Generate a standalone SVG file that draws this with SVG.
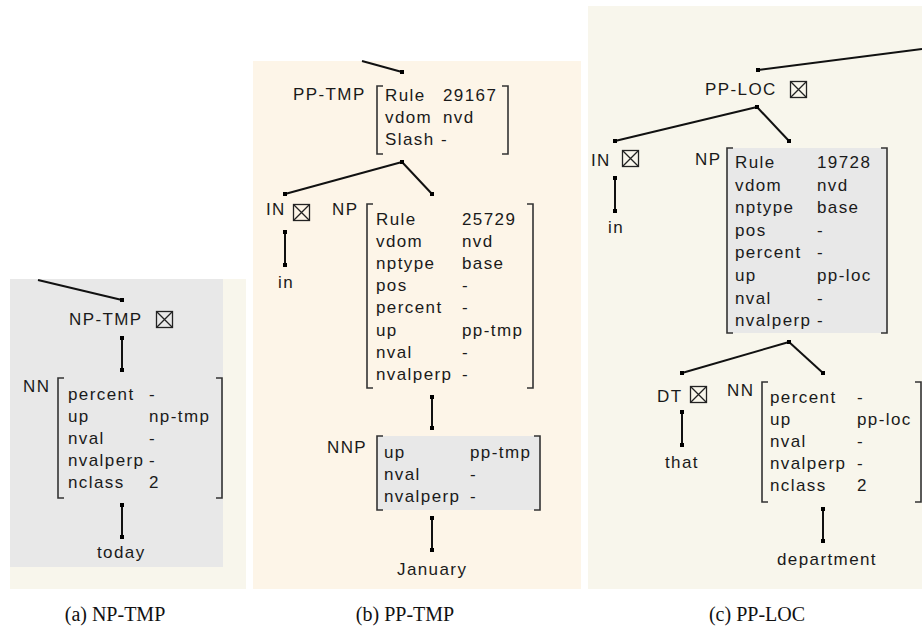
<svg xmlns="http://www.w3.org/2000/svg" width="922" height="632" viewBox="0 0 922 632">
<defs>
<style>
.t{font-family:"Liberation Sans",Arial,sans-serif;font-size:17px;fill:#1a1a1a;letter-spacing:1.4px}
.cap{font-family:"Liberation Serif","Times New Roman",serif;font-size:20px;fill:#111;text-anchor:middle}
.br{fill:none;stroke:#333;stroke-width:1.6}
.ln{stroke:#111;stroke-width:2;fill:none}
.cb{fill:none;stroke:#222;stroke-width:1.3}
.box{fill:#e8e8e8}
</style>
<marker id="dot" viewBox="0 0 4 4" refX="2" refY="2" markerWidth="4" markerHeight="4" markerUnits="userSpaceOnUse"><rect width="4" height="4" fill="#000"/></marker>
<g id="chk"><rect class="cb" x="0.5" y="0.5" width="16" height="16"/><path class="cb" d="M0.5 0.5L16.5 16.5M16.5 0.5L0.5 16.5"/></g>
</defs>
<rect width="922" height="632" fill="#fff"/>
<!-- panel backgrounds -->
<rect x="10" y="279" width="236" height="310" fill="#f8f6ec"/>
<rect x="10" y="279" width="213" height="288" fill="#e8e8e8"/>
<rect x="253" y="61" width="328" height="528" fill="#fdf5e8"/>
<rect x="588" y="6" width="334" height="583" fill="#f8f6ec"/>

<g id="connectors" class="ln" marker-start="url(#dot)" marker-end="url(#dot)">
<!-- panel a -->
<path d="M38 280L122 300" marker-start="none"/>
<path d="M122 338L122 370"/>
<path d="M122 505L122 537"/>
<!-- panel b -->
<path d="M362 61L402 72" marker-start="none"/>
<path d="M402 162L285 194"/>
<path d="M402 162L432 194"/>
<path d="M285 232L285 265"/>
<path d="M432 397L432 428"/>
<path d="M432 518L432 550"/>
<!-- panel c -->
<path d="M922 49L758 70" marker-start="none"/>
<path d="M757 107L615 141"/>
<path d="M757 107L789 141"/>
<path d="M615 178L615 211"/>
<path d="M789 342L682 373"/>
<path d="M789 342L823 373"/>
<path d="M682 412L682 445"/>
<path d="M823 509L823 541"/>
</g>

<!-- ===== panel a ===== -->
<g id="a-np-tmp">
<text class="t" x="69" y="325">NP-TMP</text>
<use href="#chk" x="156" y="311"/>
</g>
<g id="a-nn">
<text class="t" x="23" y="392">NN</text>
<path class="br" d="M64 378H58V498H64"/>
<path class="br" d="M216 378H222V498H216"/>
<text class="t" x="68" y="400">percent</text><text class="t" x="149" y="400">-</text>
<text class="t" x="68" y="422">up</text><text class="t" x="149" y="422">np-tmp</text>
<text class="t" x="68" y="444">nval</text><text class="t" x="149" y="444">-</text>
<text class="t" x="68" y="466">nvalperp</text><text class="t" x="149" y="466">-</text>
<text class="t" x="68" y="488">nclass</text><text class="t" x="149" y="488">2</text>
</g>
<g id="a-today"><text class="t" x="97" y="558">today</text></g>

<!-- ===== panel b ===== -->
<g id="b-pp-tmp">
<text class="t" x="293" y="100">PP-TMP</text>
<path class="br" d="M383 86H377V154H383"/>
<path class="br" d="M502 86H508V154H502"/>
<text class="t" x="385" y="101">Rule</text><text class="t" x="443" y="101">29167</text>
<text class="t" x="385" y="123">vdom</text><text class="t" x="443" y="123">nvd</text>
<text class="t" x="385" y="145">Slash</text><text class="t" x="441" y="145">-</text>
</g>
<g id="b-in">
<text class="t" x="266" y="215">IN</text>
<use href="#chk" x="293" y="204"/>
</g>
<g id="b-in-word"><text class="t" x="278" y="288">in</text></g>
<g id="b-np">
<text class="t" x="332" y="215">NP</text>
<path class="br" d="M373 204H367V388H373"/>
<path class="br" d="M527 204H533V388H527"/>
<text class="t" x="376" y="224.5">Rule</text><text class="t" x="462" y="224.5">25729</text>
<text class="t" x="376" y="246.7">vdom</text><text class="t" x="462" y="246.7">nvd</text>
<text class="t" x="376" y="268.9">nptype</text><text class="t" x="462" y="268.9">base</text>
<text class="t" x="376" y="291.1">pos</text><text class="t" x="462" y="291.1">-</text>
<text class="t" x="376" y="313.3">percent</text><text class="t" x="462" y="313.3">-</text>
<text class="t" x="376" y="335.5">up</text><text class="t" x="462" y="335.5">pp-tmp</text>
<text class="t" x="376" y="357.7">nval</text><text class="t" x="462" y="357.7">-</text>
<text class="t" x="376" y="379.9">nvalperp</text><text class="t" x="462" y="379.9">-</text>
</g>
<g id="b-nnp">
<rect class="box" x="377" y="436" width="163" height="74"/>
<text class="t" x="327" y="453">NNP</text>
<path class="br" d="M383 436H377V510H383"/>
<path class="br" d="M534 436H540V510H534"/>
<text class="t" x="384" y="458">up</text><text class="t" x="470" y="458">pp-tmp</text>
<text class="t" x="384" y="480">nval</text><text class="t" x="470" y="480">-</text>
<text class="t" x="384" y="502">nvalperp</text><text class="t" x="470" y="502">-</text>
</g>
<g id="b-january"><text class="t" x="397" y="575">January</text></g>

<!-- ===== panel c ===== -->
<g id="c-pp-loc">
<text class="t" x="705" y="95">PP-LOC</text>
<use href="#chk" x="790" y="81"/>
</g>
<g id="c-in">
<text class="t" x="591" y="166">IN</text>
<use href="#chk" x="622" y="150"/>
</g>
<g id="c-in-word"><text class="t" x="608" y="233">in</text></g>
<g id="c-np">
<rect class="box" x="727" y="148" width="160" height="185"/>
<text class="t" x="695" y="165">NP</text>
<path class="br" d="M733 148H727V333H733"/>
<path class="br" d="M881 148H887V333H881"/>
<text class="t" x="735" y="168">Rule</text><text class="t" x="817" y="168">19728</text>
<text class="t" x="735" y="190.6">vdom</text><text class="t" x="817" y="190.6">nvd</text>
<text class="t" x="735" y="213.2">nptype</text><text class="t" x="817" y="213.2">base</text>
<text class="t" x="735" y="235.8">pos</text><text class="t" x="817" y="235.8">-</text>
<text class="t" x="735" y="258.4">percent</text><text class="t" x="817" y="258.4">-</text>
<text class="t" x="735" y="281">up</text><text class="t" x="817" y="281">pp-loc</text>
<text class="t" x="735" y="303.6">nval</text><text class="t" x="817" y="303.6">-</text>
<text class="t" x="735" y="326.2">nvalperp</text><text class="t" x="817" y="326.2">-</text>
</g>
<g id="c-dt">
<text class="t" x="657" y="402">DT</text>
<use href="#chk" x="690" y="386"/>
</g>
<g id="c-that"><text class="t" x="665" y="468">that</text></g>
<g id="c-nn">
<text class="t" x="727" y="396">NN</text>
<path class="br" d="M768 382H762V502H768"/>
<path class="br" d="M915 382H921V502H915"/>
<text class="t" x="770" y="403">percent</text><text class="t" x="857" y="403">-</text>
<text class="t" x="770" y="425">up</text><text class="t" x="857" y="425">pp-loc</text>
<text class="t" x="770" y="447">nval</text><text class="t" x="857" y="447">-</text>
<text class="t" x="770" y="469">nvalperp</text><text class="t" x="857" y="469">-</text>
<text class="t" x="770" y="491">nclass</text><text class="t" x="857" y="491">2</text>
</g>
<g id="c-department"><text class="t" x="777" y="565">department</text></g>

<!-- captions -->
<g id="captions">
<text class="cap" x="115" y="621">(a) NP-TMP</text>
<text class="cap" x="405" y="621">(b) PP-TMP</text>
<text class="cap" x="757" y="621">(c) PP-LOC</text>
</g>
</svg>
